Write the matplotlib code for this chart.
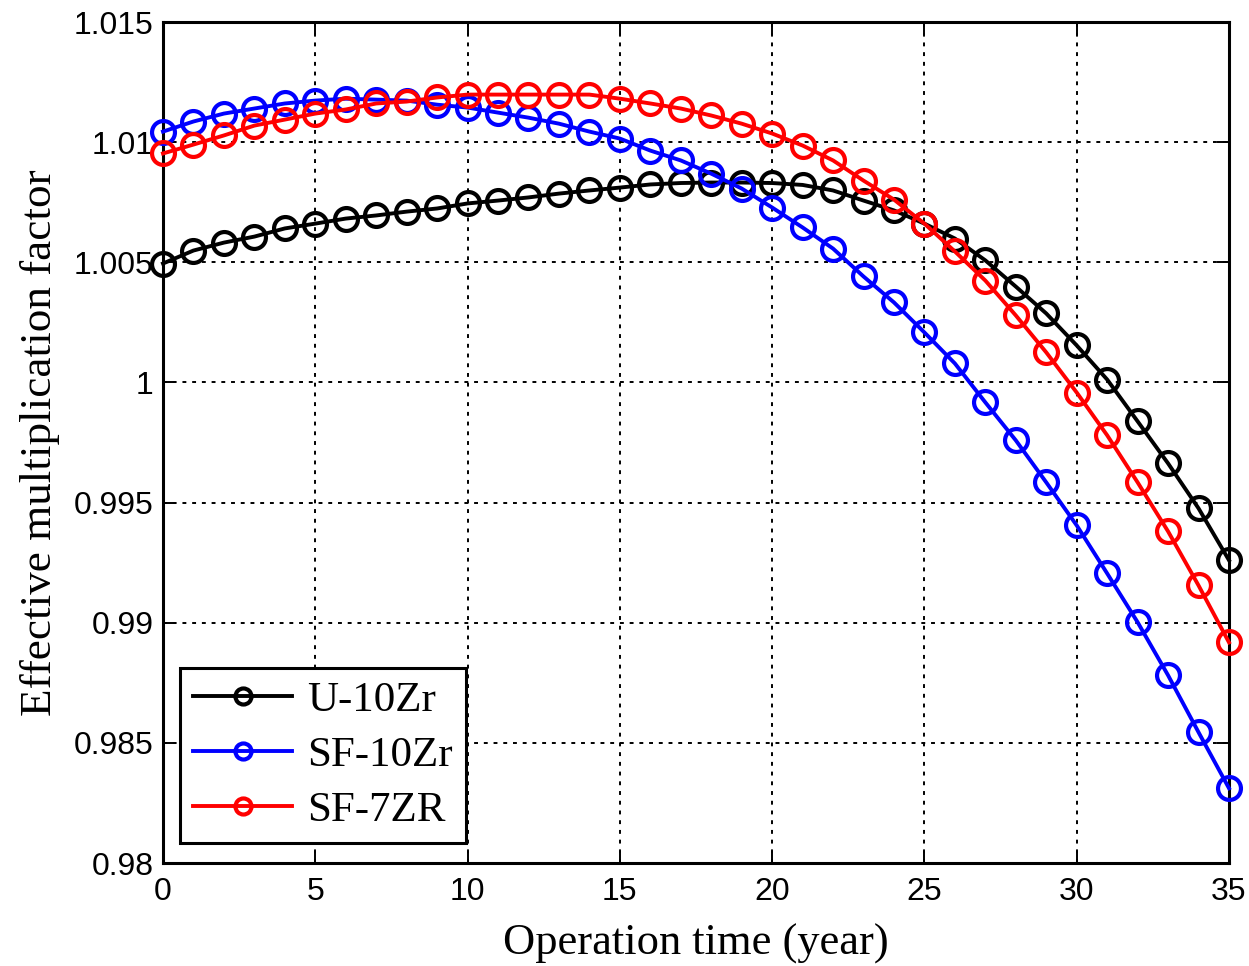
import matplotlib
matplotlib.use("Agg")
import matplotlib.pyplot as plt
import numpy as np

# Operation time (years)
years = list(range(0, 36))

# Effective multiplication factor for each fuel type
k_u10zr = [1.00495, 1.00549, 1.00582, 1.00607, 1.00641, 1.00661, 1.00682, 1.00695,
           1.00711, 1.00724, 1.00745, 1.00757, 1.00770, 1.00786, 1.00799, 1.00811,
           1.00824, 1.00830, 1.00832, 1.00832, 1.00830, 1.00822, 1.00799, 1.00757,
           1.00716, 1.00661, 1.00599, 1.00508, 1.00399, 1.00287, 1.00154, 1.00012,
           0.99838, 0.99663, 0.99476, 0.99260]

k_sf10zr = [1.01044, 1.01086, 1.01119, 1.01140, 1.01161, 1.01173, 1.01181, 1.01177,
            1.01173, 1.01156, 1.01144, 1.01123, 1.01102, 1.01077, 1.01044, 1.01015,
            1.00965, 1.00924, 1.00869, 1.00807, 1.00728, 1.00645, 1.00557, 1.00441,
            1.00333, 1.00208, 1.00079, 0.99917, 0.99759, 0.99584, 0.99405, 0.99205,
            0.99002, 0.98781, 0.98544, 0.98311]

k_sf7zr = [1.00953, 1.00990, 1.01028, 1.01069, 1.01094, 1.01119, 1.01136, 1.01161,
           1.01169, 1.01186, 1.01198, 1.01198, 1.01198, 1.01198, 1.01198, 1.01181,
           1.01161, 1.01140, 1.01111, 1.01077, 1.01036, 1.00986, 1.00924, 1.00840,
           1.00761, 1.00661, 1.00545, 1.00424, 1.00279, 1.00125, 0.99958, 0.99780,
           0.99584, 0.99380, 0.99155, 0.98918]

series_labels = ["U-10Zr", "SF-10Zr", "SF-7ZR"]
series_colors = ["black", "blue", "red"]

x_ticks = [0, 5, 10, 15, 20, 25, 30, 35]
y_ticks = [0.98, 0.985, 0.99, 0.995, 1.0, 1.005, 1.01, 1.015]
y_tick_labels = ["0.98", "0.985", "0.99", "0.995", "1", "1.005", "1.01", "1.015"]

fig = plt.figure(figsize=(12.49, 9.66), dpi=100)
ax = fig.add_axes([0.1305, 0.1066, 0.8535, 0.8706])

for k, lab, col in zip([k_u10zr, k_sf10zr, k_sf7zr], series_labels, series_colors):
    ax.plot(years, k, color=col, lw=2.8, marker="o", ms=16.5, mew=3.0,
            mfc="none", mec=col, label=lab, clip_on=False, zorder=3)

ax.set_xlim(0, 35)
ax.set_ylim(0.98, 1.015)
ax.set_xticks(x_ticks)
ax.set_yticks(y_ticks)
ax.set_yticklabels(y_tick_labels)

ax.grid(True, color="black", linestyle=(0, (2, 3)), linewidth=1.4)
ax.tick_params(direction="in", length=9, width=1.4, top=True, right=True,
               labelsize=23)
ax.tick_params(axis="y", pad=7)
ax.tick_params(axis="x", pad=10)
for lbl in ax.get_xticklabels() + ax.get_yticklabels():
    lbl.set_fontfamily("Liberation Sans")
for sp in ax.spines.values():
    sp.set_linewidth(2.2)

ax.set_xlabel("Operation time (year)", fontfamily="Liberation Serif", fontsize=32, labelpad=12)
ax.set_ylabel("Effective multiplication factor", fontfamily="Liberation Serif", fontsize=32.5, labelpad=10)

leg = ax.legend(loc="lower left", bbox_to_anchor=(0.004, 0.009),
                prop={"family": "Liberation Serif", "size": 31},
                frameon=True, fancybox=False, edgecolor="black", framealpha=1,
                handlelength=2.3, handletextpad=0.35, labelspacing=0.36, borderpad=0.3,
                borderaxespad=0.3, markerscale=0.7)
leg.get_frame().set_linewidth(2.2)

fig.savefig("out.png", dpi=100, facecolor="white")
